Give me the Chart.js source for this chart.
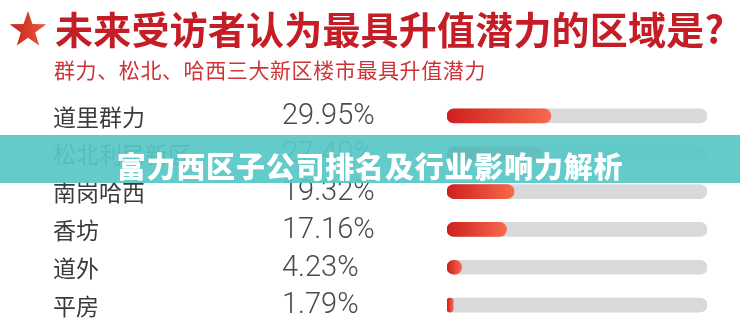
<!DOCTYPE html>
<html lang="zh-CN">
<head>
<meta charset="utf-8">
<script src="https://cdn.jsdelivr.net/npm/chart.js@4"></script>
<style>
  html, body { margin: 0; padding: 0; background: #fff; }
  #wrap { position: relative; width: 740px; height: 329px; overflow: hidden; background: #fff; }
  #chart { position: absolute; left: 0; top: 0; }
  .star { position: absolute; left: 9px; top: 10px; width: 38px; height: 37px; }
  .title {
    position: absolute; left: 55px; top: 3px; margin: 0;
    font: 700 38px "Noto Sans CJK SC", sans-serif; line-height: 50px;
    color: #c41d25; white-space: nowrap; letter-spacing: 0.2px;
  }
  .subtitle {
    position: absolute; left: 54px; top: 54px; margin: 0;
    font: 400 21px "Noto Sans CJK SC", sans-serif; line-height: 30px;
    color: #cf3236; white-space: nowrap; letter-spacing: 0.6px;
  }
  .banner {
    position: absolute; left: 0; top: 135px; width: 740px; height: 48px;
    background: rgba(88, 199, 199, 0.93);
  }
  .banner span {
    position: absolute; left: 0; right: 0; top: 10px; text-align: center;
    font: 900 29px "Noto Sans CJK SC", sans-serif; line-height: 40px;
    color: #fff; letter-spacing: 0.8px; white-space: nowrap;
  }
</style>
</head>
<body>
<div id="wrap">
  <canvas id="chart" width="740" height="329"></canvas>
  <svg class="star" viewBox="0 0 100 96">
    <defs>
      <linearGradient id="starFill" x1="0" y1="0" x2="1" y2="0">
        <stop offset="0" stop-color="#c0211c"/>
        <stop offset="1" stop-color="#ee5a3c"/>
      </linearGradient>
    </defs>
    <polygon fill="url(#starFill)" points="50,2 61.8,36.4 98,36.8 69,58.4 79.4,93 50,72.2 20.6,93 31,58.4 2,36.8 38.2,36.4"/>
  </svg>
  <h1 class="title">未来受访者认为最具升值潜力的区域是?</h1>
  <p class="subtitle">群力、松北、哈西三大新区楼市最具升值潜力</p>
  <div class="banner"><span>富力西区子公司排名及行业影响力解析</span></div>
</div>
<script>
// Survey: which district has the most appreciation potential (share of respondents, %)
const regions = ['道里群力', '松北利民新区', '南岗哈西', '香坊', '道外', '平房'];
const shares = [29.95, 27.40, 19.32, 17.16, 4.23, 1.79];
const scaleMax = 75;

// Grey track behind each bar spans the whole scale
const track = regions.map(() => scaleMax);

function barGradient(ctx) {
  const chart = ctx.chart;
  const xs = chart.scales && chart.scales.x;
  if (!xs || !chart.chartArea || ctx.type !== 'data') return '#e0392c';
  const v = ctx.dataset.data[ctx.dataIndex];
  const x0 = xs.getPixelForValue(0);
  const x1 = Math.max(xs.getPixelForValue(v), x0 + 1);
  const g = chart.ctx.createLinearGradient(x0, 0, x1, 0);
  g.addColorStop(0, '#cf1f1f');
  g.addColorStop(1, '#f66a4b');
  return g;
}

// Region names and percentages in the two left-hand columns
const rowText = {
  id: 'rowText',
  afterDatasetsDraw(chart) {
    const { ctx } = chart;
    const ys = chart.scales.y;
    ctx.save();
    ctx.textBaseline = 'middle';
    regions.forEach((name, i) => {
      const y = ys.getPixelForValue(i);
      ctx.fillStyle = '#3b3b3b';
      ctx.font = '400 23px "Noto Sans CJK SC", sans-serif';
      ctx.textAlign = 'left';
      ctx.fillText(name, 53, y + 1);
      ctx.fillStyle = '#4a4a4a';
      ctx.font = '300 29px Roboto, "Open Sans", sans-serif';
      ctx.fillText(shares[i].toFixed(2) + '%', 282, y + 1);
    });
    ctx.restore();
  }
};

new Chart(document.getElementById('chart'), {
  type: 'bar',
  data: {
    labels: regions,
    datasets: [
      {
        label: '占比',
        data: shares,
        backgroundColor: barGradient,
        borderRadius: 7,
        borderSkipped: false,
        barThickness: 14,
        grouped: false,
        order: 0
      },
      {
        label: 'track',
        data: track,
        backgroundColor: '#d9d9db',
        borderRadius: 7,
        borderSkipped: false,
        barThickness: 14,
        grouped: false,
        order: 1
      }
    ]
  },
  options: {
    indexAxis: 'y',
    responsive: false,
    animation: false,
    events: [],
    layout: { padding: { left: 447, right: 33, top: 97, bottom: 5 } },
    scales: {
      x: { min: 0, max: scaleMax, display: false },
      y: { display: false }
    },
    plugins: {
      legend: { display: false },
      tooltip: { enabled: false }
    }
  },
  plugins: [rowText]
});
</script>
</body>
</html>
